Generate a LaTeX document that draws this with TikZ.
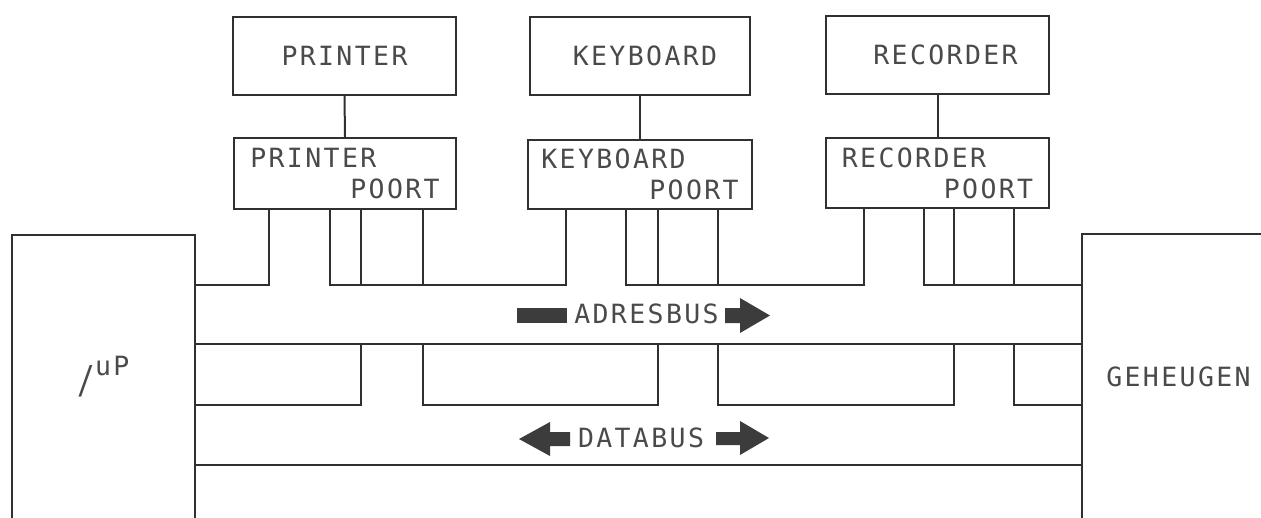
\documentclass[tikz,border=0pt]{standalone}
\usepackage{fontspec}
\newfontfamily\tw[LetterSpace=9]{DejaVu Sans Mono}
\definecolor{ink}{HTML}{303030}
\definecolor{txt}{HTML}{4A4A4A}
\definecolor{arr}{HTML}{3C3C3C}
\begin{document}
\begin{tikzpicture}[x=1pt,y=-1pt,
  line/.style={draw=ink,line width=2pt},
  box/.style={draw=ink,line width=2pt,rectangle,inner sep=0pt,text=txt,font=\tw\fontsize{26.5}{31}\selectfont},
  lbl/.style={text=txt,inner sep=0pt,font=\tw\fontsize{26.5}{31}\selectfont},
  arrowfill/.style={fill=arr,draw=none}]
\useasboundingbox (0,0) rectangle (1261,517);
\fill[white] (0,0) rectangle (1261,517);
\clip (0,0) rectangle (1261,517);

% devices
\node[box,minimum width=223pt,minimum height=78pt] (printer) at (344.5,56) {PRINTER};
\node[box,minimum width=220pt,minimum height=78pt] (keyboard) at (640,56) {\hspace*{10pt}KEYBOARD};
\node[box,minimum width=223pt,minimum height=78pt] (recorder) at (937.5,55) {\hspace*{16pt}RECORDER};

% ports
\node[box,align=left,minimum width=222pt,minimum height=71pt] (pp) at (345,173.5) {PRINTER\\\hspace*{100pt}POORT};
\node[box,align=left,minimum width=224pt,minimum height=69pt] (kp) at (640,174.5) {KEYBOARD\\\hspace*{108pt}POORT};
\node[box,align=left,minimum width=223pt,minimum height=70pt] (rp) at (937.5,173) {RECORDER\\\hspace*{102pt}POORT};

% processor and memory
\node[box,minimum width=183pt,minimum height=284pt] (up) at (103.5,377) {\raisebox{-2pt}{\scalebox{1.1}[1.45]{/}}\raisebox{16pt}{uP}};
\node[box,minimum width=193pt,minimum height=285pt] (mem) at (1178.5,376.5) {GEHEUGEN};

% device to port
\draw[line] (printer.south) -- (pp.north);
\draw[line] (keyboard.south) -- (kp.north);
\draw[line] (recorder.south) -- (rp.north);

% address bus upper edge with port legs
\draw[line] (up.east |- 0,285) -- (269,285) -- (pp.south -| 269,0);
\draw[line] (pp.south -| 330,0) -- (330,285) -- (566,285) -- (kp.south -| 566,0);
\draw[line] (pp.south -| 361,0) -- (361,285);
\draw[line] (pp.south -| 423,0) -- (423,285);
\draw[line] (kp.south -| 626,0) -- (626,285) -- (864,285) -- (rp.south -| 864,0);
\draw[line] (kp.south -| 658,0) -- (658,285);
\draw[line] (kp.south -| 718,0) -- (718,285);
\draw[line] (rp.south -| 924,0) -- (924,285) -- (mem.west |- 0,285);
\draw[line] (rp.south -| 954,0) -- (954,285);
\draw[line] (rp.south -| 1014,0) -- (1014,285);

% address bus lower edge
\draw[line] (up.east |- 0,343.5) -- (mem.west |- 0,343.5);

% data legs and data bus upper edge
\draw[line] (up.east |- 0,405) -- (361,405) -- (361,343.5);
\draw[line] (423,343.5) -- (423,405) -- (658,405) -- (658,343.5);
\draw[line] (718,343.5) -- (718,405) -- (954,405) -- (954,343.5);
\draw[line] (1014,343.5) -- (1014,405) -- (mem.west |- 0,405);

% data bus lower edge
\draw[line] (up.east |- 0,464.5) -- (mem.west |- 0,464.5);

% bus arrows and labels
\fill[arrowfill] (517,308) rectangle (567,323);
\fill[arrowfill] (725,308) -- (740,308) -- (740,298) -- (770,315.5) -- (740,333) -- (740,323) -- (725,323) -- cycle;
\node[lbl] (adres) at (646.5,313.5) {ADRESBUS};
\fill[arrowfill] (519,439) -- (550,422) -- (550,432) -- (570,432) -- (570,446) -- (550,446) -- (550,456) -- cycle;
\fill[arrowfill] (716,432) -- (740,432) -- (740,421) -- (769,438) -- (740,455) -- (740,445) -- (716,445) -- cycle;
\node[lbl] (data) at (641,438) {DATABUS};
\end{tikzpicture}
\end{document}
